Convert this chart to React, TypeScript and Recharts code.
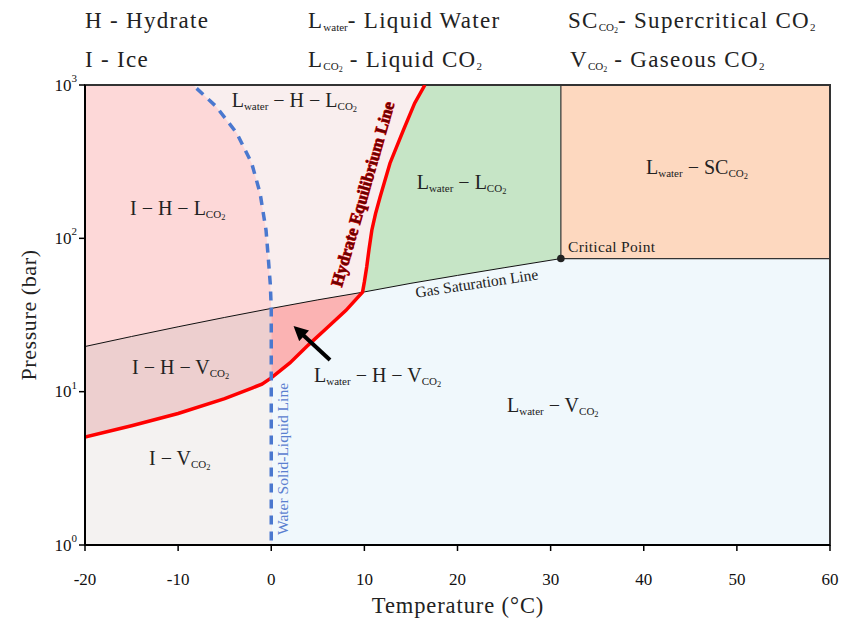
import React from "react";
import {
  ComposedChart,
  Area,
  Line,
  Scatter,
  XAxis,
  YAxis,
  ReferenceArea,
} from "recharts";

// temperature (°C) / pressure (bar)
const xTicks = [-20, -10, 0, 10, 20, 30, 40, 50, 60];
const yTicks = [1, 10, 100, 1000];

const gasSaturation = [
  { T: -20, P: 19.7 },
  { T: -15, P: 22.9 },
  { T: -10, P: 26.5 },
  { T: -5, P: 30.5 },
  { T: 0, P: 34.9 },
  { T: 5, P: 39.7 },
  { T: 9.8, P: 44.5 },
  { T: 15, P: 50.9 },
  { T: 20, P: 57.3 },
  { T: 25, P: 64.3 },
  { T: 31.1, P: 73.8 },
];

const hydrateLower = [
  { T: -20, P: 5.06 },
  { T: -15, P: 6.0 },
  { T: -10, P: 7.2 },
  { T: -5, P: 9.0 },
  { T: -2, P: 10.6 },
  { T: -1, P: 11.2 },
  { T: 0, P: 12.3 },
  { T: 2, P: 15.4 },
  { T: 4, P: 20.2 },
  { T: 6, P: 26.1 },
  { T: 8, P: 33.8 },
  { T: 9.8, P: 44.5 },
];

const hydrateUpper = [
  { T: 10.0, P: 52 },
  { T: 10.25, P: 65 },
  { T: 10.5, P: 85 },
  { T: 10.8, P: 113 },
  { T: 11.2, P: 145 },
  { T: 11.7, P: 187 },
  { T: 12.75, P: 309 },
  { T: 14.2, P: 510 },
  { T: 15.4, P: 761 },
  { T: 16.5, P: 1000 },
];

const waterMelting = [
  { T: 0, P: 1.07 },
  { T: 0, P: 35 },
  { T: -0.1, P: 50 },
  { T: -0.3, P: 72 },
  { T: -0.56, P: 113 },
  { T: -1.2, P: 197 },
  { T: -2.1, P: 309 },
  { T: -3.7, P: 485 },
  { T: -5.9, P: 722 },
  { T: -8.4, P: 1000 },
];

const criticalPoint = { T: 31.1, P: 73.8 };
const quadruplePoint = { T: 9.8, P: 44.5 };
const arrow = [
  { T: 6.31, P: 16.1 },
  { T: 3.3, P: 23.8 },
];

const T_MIN = -20;
const T_MAX = 60;
const P_MIN = 1;
const P_MAX = 1000;

// region labels: [text, level] parts (0 normal, 1 subscript, 2 sub-subscript)
const regionLabels = [
  { T: -4.25, P: 798, parts: [["L", 0], ["water", 1], [" − H − L", 0], ["CO", 1], ["2", 2]] },
  { T: -15.17, P: 157.7, parts: [["I − H − L", 0], ["CO", 1], ["2", 2]] },
  { T: 15.62, P: 233, parts: [["L", 0], ["water", 1], [" − L", 0], ["CO", 1], ["2", 2]] },
  { T: 40.24, P: 291.9, parts: [["L", 0], ["water", 1], [" − SC", 0], ["CO", 1], ["2", 2]] },
  { T: -14.95, P: 14.5, parts: [["I − H − V", 0], ["CO", 1], ["2", 2]] },
  { T: 4.59, P: 12.8, parts: [["L", 0], ["water", 1], [" − H − V", 0], ["CO", 1], ["2", 2]] },
  { T: 25.32, P: 8.19, parts: [["L", 0], ["water", 1], [" − V", 0], ["CO", 1], ["2", 2]] },
  { T: -13.13, P: 3.69, parts: [["I − V", 0], ["CO", 1], ["2", 2]] },
];

const lineLabels = [
  { T: 9.85, P: 194.5, text: "Hydrate Equilibrium Line", kind: "hydrate" },
  { T: 22.06, P: 51.1, text: "Gas Saturation Line", kind: "gas" },
  { T: 1.26, P: 3.64, text: "Water Solid-Liquid Line", kind: "water" },
  { T: 31.87, P: 87.8, text: "Critical Point", kind: "critical" },
];

const FONT = "'Liberation Serif', 'Times New Roman', serif";

const range = (pts: { T: number; P: number }[], lo: (p: any) => number, hi: (p: any) => number) =>
  pts.map((p) => ({ T: p.T, lo: lo(p), hi: hi(p) }));

const bgData = [
  { T: T_MIN, lo: P_MIN, hi: P_MAX },
  { T: T_MAX, lo: P_MIN, hi: P_MAX },
];
const scData = [
  { T: criticalPoint.T, lo: criticalPoint.P, hi: P_MAX },
  { T: T_MAX, lo: criticalPoint.P, hi: P_MAX },
];
const greenData = range(gasSaturation, (p) => p.P, () => P_MAX);
const lightPinkData = range(
  [...gasSaturation.filter((p) => p.T <= quadruplePoint.T), ...hydrateUpper],
  (p) => p.P,
  () => P_MAX
);
const iceHLData = range(
  [{ T: T_MIN, P: P_MAX }, ...[...waterMelting].reverse()],
  () => P_MIN,
  (p) => p.P
);
const iceHVData = range(gasSaturation.filter((p) => p.T <= 0), () => P_MIN, (p) => p.P);
const waterHVData = range(
  gasSaturation.filter((p) => p.T >= 0 && p.T <= quadruplePoint.T),
  () => P_MIN,
  (p) => p.P
);
const iceVData = range(hydrateLower.filter((p) => p.T <= 0), () => P_MIN, (p) => p.P);
// liquid water + CO2 vapour: under hydrate line to the quadruple point, then under the gas line
const waterVData = range(
  [
    ...hydrateLower.filter((p) => p.T >= 0),
    ...gasSaturation.filter((p) => p.T > quadruplePoint.T),
    { T: T_MAX, P: criticalPoint.P },
  ],
  () => P_MIN,
  (p) => p.P
);
const scBorder = [
  { T: criticalPoint.T, P: P_MAX },
  { T: criticalPoint.T, P: criticalPoint.P },
  { T: T_MAX, P: criticalPoint.P },
];

const rangeKey = (d: any) => [d.lo, d.hi];

function SubText({ x, y, parts, size, anchor = "start", fill = "#222" }: any) {
  let level = 0;
  const shift = [0, 6, 9];
  const sizes = [size, size * 0.55, size * 0.42];
  return (
    <text
      x={x}
      y={y}
      fontFamily={FONT}
      fontSize={size}
      fill={fill}
      textAnchor={anchor}
      dominantBaseline="central"
    >
      {parts.map(([t, l]: [string, number], i: number) => {
        const dy = shift[l] - shift[level];
        level = l;
        return (
          <tspan key={i} dy={dy} fontSize={sizes[l]}>
            {t}
          </tspan>
        );
      })}
    </text>
  );
}

const RegionLabel = (props: any) => {
  const { cx, cy, payload } = props;
  return <SubText x={cx} y={cy} parts={payload.parts} size={20} />;
};

const LineLabel = (props: any) => {
  const { cx, cy, payload } = props;
  if (payload.kind === "hydrate") {
    return (
      <text
        x={cx}
        y={cy}
        transform={`rotate(-74 ${cx} ${cy})`}
        textAnchor="middle"
        dominantBaseline="central"
        fontFamily={FONT}
        fontWeight="bold"
        fontSize={17}
        fill="#6a0000"
        stroke="#e01010"
        strokeWidth={0.9}
        paintOrder="stroke"
      >
        {payload.text}
      </text>
    );
  }
  if (payload.kind === "gas") {
    return (
      <text
        x={cx}
        y={cy}
        transform={`rotate(-8.5 ${cx} ${cy})`}
        textAnchor="middle"
        dominantBaseline="central"
        fontFamily={FONT}
        fontSize={15.5}
        fill="#222"
      >
        {payload.text}
      </text>
    );
  }
  if (payload.kind === "water") {
    return (
      <text
        x={cx}
        y={cy}
        transform={`rotate(-90 ${cx} ${cy})`}
        textAnchor="middle"
        dominantBaseline="central"
        fontFamily={FONT}
        fontSize={15.5}
        fill="#5b80d0"
      >
        {payload.text}
      </text>
    );
  }
  return (
    <text
      x={cx}
      y={cy}
      textAnchor="start"
      dominantBaseline="central"
      fontFamily={FONT}
      fontSize={15.5}
      letterSpacing={0.3}
      fill="#222"
    >
      {payload.text}
    </text>
  );
};

const XTick = ({ x, y, payload }: any) => (
  <text
    x={x}
    y={y + 28}
    textAnchor="middle"
    dominantBaseline="central"
    fontFamily={FONT}
    fontSize={17}
    fill="#111"
  >
    {payload.value}
  </text>
);

const YTick = ({ x, y, payload }: any) => {
  const exp = Math.round(Math.log10(payload.value));
  return (
    <text
      x={x - 2}
      y={y}
      textAnchor="end"
      dominantBaseline="central"
      fontFamily={FONT}
      fontSize={17}
      fill="#111"
    >
      10
      <tspan dy={-7} fontSize={11}>
        {exp}
      </tspan>
    </text>
  );
};

const legendItems = [
  { x: 85, y: 20, parts: [["H - Hydrate", 0]] },
  { x: 85, y: 59, parts: [["I  - Ice", 0]] },
  { x: 308, y: 20, parts: [["L", 0], ["water", 1], ["- Liquid Water", 0]] },
  { x: 308, y: 59, parts: [["L", 0], ["CO", 1], ["2", 2], [" - Liquid CO", 0], ["2", 1]] },
  { x: 568, y: 20, parts: [["SC", 0], ["CO", 1], ["2", 2], ["- Supercritical CO", 0], ["2", 1]] },
  { x: 570, y: 59, parts: [["V", 0], ["CO", 1], ["2", 2], [" - Gaseous CO", 0], ["2", 1]] },
];

function Legend() {
  return (
    <svg
      width={844}
      height={619}
      style={{ position: "absolute", left: 0, top: 0, pointerEvents: "none" }}
    >
      {legendItems.map((it, i) => {
        let level = 0;
        const shift = [0, 7, 10];
        const sizes = [23, 11, 8];
        return (
          <text
            key={i}
            x={it.x}
            y={it.y}
            fontFamily={FONT}
            fontSize={23}
            fill="#222"
            dominantBaseline="central"
          >
            {it.parts.map(([t, l]: any, j: number) => {
              const dy = shift[l] - shift[level];
              level = l;
              return (
                <tspan key={j} dy={dy} fontSize={sizes[l]} letterSpacing={l ? 0 : 1.3}>
                  {t}
                </tspan>
              );
            })}
          </text>
        );
      })}
      <text
        x={458}
        y={605}
        textAnchor="middle"
        dominantBaseline="central"
        fontFamily={FONT}
        fontSize={22.5}
        letterSpacing={0.9}
        fill="#222"
      >
        Temperature (°C)
      </text>
      <text
        x={28}
        y={315}
        transform="rotate(-90 28 315)"
        textAnchor="middle"
        dominantBaseline="central"
        fontFamily={FONT}
        fontSize={22}
        letterSpacing={0.6}
        fill="#222"
      >
        Pressure (bar)
      </text>
    </svg>
  );
}

export default function App() {
  return (
    <div style={{ position: "absolute", left: 0, top: 0, width: 844, height: 619, background: "#fff" }}>
      <ComposedChart width={844} height={619} margin={{ top: 85, right: 14, bottom: 0, left: 0 }}>
        <defs>
          <marker
            id="arrowHead"
            viewBox="0 0 10 10"
            refX="2"
            refY="5"
            markerWidth="4"
            markerHeight="3.6"
            orient="auto"
          >
            <path d="M0,0 L10,5 L0,10 z" fill="#000" />
          </marker>
        </defs>
        <XAxis
          type="number"
          dataKey="T"
          domain={[T_MIN, T_MAX]}
          ticks={xTicks}
          allowDataOverflow
          height={74}
          tick={<XTick />}
          tickSize={6}
          tickMargin={0}
          axisLine={{ stroke: "#000", strokeWidth: 2 }}
          tickLine={{ stroke: "#000", strokeWidth: 1.5 }}
        />
        <YAxis
          type="number"
          scale="log"
          domain={[P_MIN, P_MAX]}
          ticks={yTicks}
          allowDataOverflow
          width={85}
          tick={<YTick />}
          tickSize={6}
          tickMargin={0}
          axisLine={{ stroke: "#000", strokeWidth: 2 }}
          tickLine={{ stroke: "#000", strokeWidth: 1.5 }}
        />

        {/* phase regions, painted back to front */}
        <Area data={bgData} dataKey={rangeKey} type="linear" fill="#f0f8fc" fillOpacity={1} stroke="none" isAnimationActive={false} />
        <Area data={scData} dataKey={rangeKey} type="linear" fill="#fdd8bf" fillOpacity={1} stroke="none" isAnimationActive={false} />
        <Area data={greenData} dataKey={rangeKey} type="linear" fill="#c6e5c6" fillOpacity={1} stroke="none" isAnimationActive={false} />
        <Area data={lightPinkData} dataKey={rangeKey} type="linear" fill="#f9eeee" fillOpacity={1} stroke="none" isAnimationActive={false} />
        <Area data={iceHLData} dataKey={rangeKey} type="linear" fill="#fdd8d8" fillOpacity={1} stroke="none" isAnimationActive={false} />
        <Area data={iceHVData} dataKey={rangeKey} type="linear" fill="#edcfcf" fillOpacity={1} stroke="none" isAnimationActive={false} />
        <Area data={waterHVData} dataKey={rangeKey} type="linear" fill="#fbb3b3" fillOpacity={1} stroke="none" isAnimationActive={false} />
        <Area data={iceVData} dataKey={rangeKey} type="linear" fill="#f4f2f1" fillOpacity={1} stroke="none" isAnimationActive={false} />
        <Area data={waterVData} dataKey={rangeKey} type="linear" fill="#f0f8fc" fillOpacity={1} stroke="none" isAnimationActive={false} />

        {/* phase boundaries */}
        <Line data={scBorder} dataKey="P" type="linear" stroke="#333" strokeWidth={1.2} dot={false} isAnimationActive={false} />
        <Line data={gasSaturation} dataKey="P" type="linear" stroke="#111" strokeWidth={1} dot={false} isAnimationActive={false} />
        <Line
          data={[...hydrateLower, ...hydrateUpper]}
          dataKey="P"
          type="linear"
          stroke="#ff0000"
          strokeWidth={3.5}
          dot={false}
          isAnimationActive={false}
        />
        <Line
          data={waterMelting}
          dataKey="P"
          type="linear"
          stroke="#4a78cf"
          strokeWidth={3.5}
          strokeDasharray="9 7"
          dot={false}
          isAnimationActive={false}
        />
        <Line
          data={arrow}
          dataKey="P"
          type="linear"
          stroke="#000"
          strokeWidth={4}
          markerEnd="url(#arrowHead)"
          dot={false}
          isAnimationActive={false}
        />
        <Scatter
          data={[criticalPoint]}
          dataKey="P"
          isAnimationActive={false}
          shape={(p: any) => <circle cx={p.cx} cy={p.cy} r={3.8} fill="#222" />}
        />
        <Scatter data={regionLabels} dataKey="P" isAnimationActive={false} shape={RegionLabel} />
        <Scatter data={lineLabels} dataKey="P" isAnimationActive={false} shape={LineLabel} />

        <ReferenceArea x1={T_MIN} x2={T_MAX} y1={P_MIN} y2={P_MAX} fill="none" stroke="#333" strokeWidth={2} />
      </ComposedChart>
      <Legend />
    </div>
  );
}
